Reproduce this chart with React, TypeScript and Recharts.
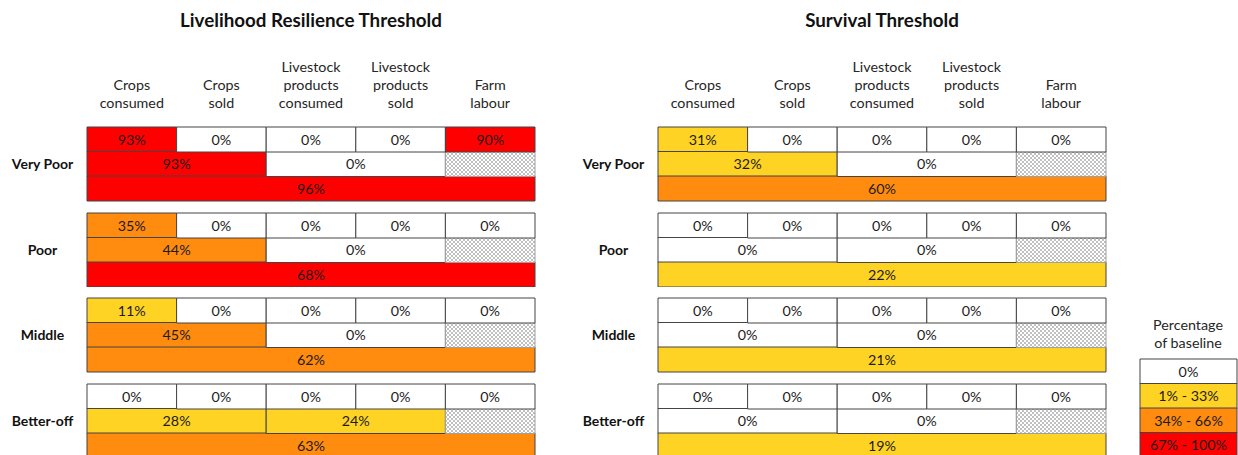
import React from "react";
import { BarChart, Bar, XAxis, YAxis, Cell, LabelList } from "recharts";

// ---------- data ----------
const groups = ["Very Poor", "Poor", "Middle", "Better-off"];
const incomeSources = [
  ["Crops", "consumed"],
  ["Crops", "sold"],
  ["Livestock", "products", "consumed"],
  ["Livestock", "products", "sold"],
  ["Farm", "labour"],
];
// structural spans (in source-column units)
const sourceSpans = [1, 1, 1, 1, 1];
const sourceGroupSpans = [2, 2, 1]; // crops, livestock products, farm labour (no data -> hatched)
const totalSpan = 5;

const resilienceBySource = [
  [93, 0, 0, 0, 90],
  [35, 0, 0, 0, 0],
  [11, 0, 0, 0, 0],
  [0, 0, 0, 0, 0],
];
const resilienceBySourceGroup = [
  [93, 0],
  [44, 0],
  [45, 0],
  [28, 24],
];
const resilienceTotal = [96, 68, 62, 63];

const survivalBySource = [
  [31, 0, 0, 0, 0],
  [0, 0, 0, 0, 0],
  [0, 0, 0, 0, 0],
  [0, 0, 0, 0, 0],
];
const survivalBySourceGroup = [
  [32, 0],
  [0, 0],
  [0, 0],
  [0, 0],
];
const survivalTotal = [60, 22, 21, 19];

const legendBands = ["0%", "1% - 33%", "34% - 66%", "67% - 100%"];
const bandLower = [0, 1, 34, 67];

// ---------- styles ----------
const palette = ["#FFFFFF", "#FFD323", "#FF8B0F", "#FF0000"];
const FONT = "Lato, 'Open Sans', sans-serif";
const ROW_H = 24.5;
const HEADER_H = 88;
const AXIS_W = 87;
const PLOT_W = 448;
const GROUP_STEP = 85.6;
const TABLE_TOP = 127;

function colorFor(v: number | null | undefined) {
  if (v === null || v === undefined) return "#FFFFFF";
  let idx = 0;
  bandLower.forEach((b, i) => {
    if (v >= b) idx = i;
  });
  return palette[idx];
}

type Row = Record<string, any>;

function buildRows(g: number, bySource: number[][], byGroup: number[][], total: number[]): Row[] {
  const items: Row = { row: "items" };
  sourceSpans.forEach((s, k) => {
    items[`s${k}`] = s;
    items[`v${k}`] = bySource[g][k];
  });
  const cats: Row = { row: "cats" };
  sourceGroupSpans.forEach((s, k) => {
    cats[`s${k}`] = s;
    const v = byGroup[g][k];
    cats[`v${k}`] = v === undefined ? null : v;
    cats[`h${k}`] = v === undefined;
  });
  const tot: Row = { row: "total", s0: totalSpan, v0: total[g] };
  return [items, cats, tot];
}

function makeCellLabel(suffix: string) {
  return (props: any) => {
    const vb = props.viewBox || props;
    const x = vb.x ?? props.x;
    const y = vb.y ?? props.y;
    const w = vb.width ?? props.width;
    const h = vb.height ?? props.height;
    const value = props.value;
    if (value === null || value === undefined || !w) return null;
    return (
      <text
        x={x + w / 2}
        y={y + h / 2 + 5}
        textAnchor="middle"
        fontFamily={FONT}
        fontSize={14.3}
        fill="#1c1c1c"
      >
        {`${value}${suffix}`}
      </text>
    );
  };
}
const PercentLabel = makeCellLabel("%");
const PlainLabel = makeCellLabel("");

function HeaderTick(props: any) {
  const { x, y, payload } = props;
  const idx = Math.floor(payload.value);
  const lines = incomeSources[idx] || [];
  const n = lines.length;
  return (
    <g>
      {lines.map((l, i) => (
        <text
          key={i}
          x={x}
          y={y - 19.5 - (n - 1 - i) * 18}
          textAnchor="middle"
          fontFamily={FONT}
          fontSize={14.3}
          fill="#262626"
        >
          {l}
        </text>
      ))}
    </g>
  );
}

function GroupChart({
  id,
  group,
  rows,
  withHeader,
}: {
  id: string;
  group: string;
  rows: Row[];
  withHeader: boolean;
}) {
  const height = ROW_H * 3 + 2 + (withHeader ? HEADER_H : 0);
  const hatchId = `hatch-${id}`;
  return (
    <BarChart
      layout="vertical"
      width={AXIS_W + PLOT_W + 2}
      height={height}
      data={rows}
      margin={{ top: 1, right: 2, bottom: 1, left: 0 }}
      barCategoryGap={0}
      barGap={0}
    >
      <defs>
        <pattern id={hatchId} width="4" height="4" patternUnits="userSpaceOnUse">
          <rect width="4" height="4" fill="#ffffff" />
          <path d="M0,0 L4,4 M4,0 L0,4" stroke="#b0b0b0" strokeWidth="0.8" />
        </pattern>
      </defs>
      <XAxis
        type="number"
        domain={[0, incomeSources.length]}
        orientation="top"
        hide={!withHeader}
        height={HEADER_H}
        ticks={incomeSources.map((_, i) => i + 0.5)}
        interval={0}
        tick={<HeaderTick />}
        tickLine={false}
        axisLine={false}
        tickSize={0}
        tickMargin={0}
      />
      <YAxis
        type="category"
        dataKey="row"
        width={AXIS_W}
        tickLine={false}
        axisLine={false}
        tickSize={0}
        tickMargin={0}
        tick={(p: any) =>
          p.payload && p.payload.value === "cats" ? (
            <text
              x={AXIS_W - 44.5}
              y={p.y + 5}
              textAnchor="middle"
              fontFamily={FONT}
              fontWeight="bold"
              fontSize={14}
              fill="#111"
            >
              {group}
            </text>
          ) : (
            <g />
          )
        }
      />
      {sourceSpans.map((_, k) => (
        <Bar key={k} dataKey={`s${k}`} stackId="row" isAnimationActive={false}>
          {rows.map((r, i) => {
            const hatched = r[`h${k}`];
            return (
              <Cell
                key={i}
                fill={hatched ? `url(#${hatchId})` : colorFor(r[`v${k}`])}
                stroke={hatched ? "#a0a0a0" : "#454545"}
                strokeWidth={1}
              />
            );
          })}
          <LabelList dataKey={`v${k}`} content={PercentLabel} />
        </Bar>
      ))}
    </BarChart>
  );
}

function Panel({
  id,
  left,
  bySource,
  byGroup,
  total,
}: {
  id: string;
  left: number;
  bySource: number[][];
  byGroup: number[][];
  total: number[];
}) {
  return (
    <>
      {groups.map((g, gi) => {
        const top = TABLE_TOP + gi * GROUP_STEP - 1 - (gi === 0 ? HEADER_H : 0);
        return (
          <div key={g} style={{ position: "absolute", left, top }}>
            <GroupChart
              id={`${id}-${gi}`}
              group={g}
              rows={buildRows(gi, bySource, byGroup, total)}
              withHeader={gi === 0}
            />
          </div>
        );
      })}
    </>
  );
}

function LegendChart() {
  const rows = legendBands.map((b, i) => ({ band: b, span: 1, lower: bandLower[i] }));
  return (
    <BarChart
      layout="vertical"
      width={99}
      height={ROW_H * 4 + 2}
      data={rows}
      margin={{ top: 1, right: 1, bottom: 1, left: 1 }}
      barCategoryGap={0}
    >
      <XAxis type="number" domain={[0, 1]} hide />
      <YAxis type="category" dataKey="band" hide />
      <Bar dataKey="span" isAnimationActive={false}>
        {rows.map((r, i) => (
          <Cell key={i} fill={colorFor(r.lower)} stroke="#454545" strokeWidth={1} />
        ))}
        <LabelList dataKey="band" content={PlainLabel} />
      </Bar>
    </BarChart>
  );
}

export default function App() {
  return (
    <div
      style={{
        position: "absolute",
        left: 0,
        top: 0,
        width: 1238,
        height: 455,
        overflow: "hidden",
        background: "#fff",
        fontFamily: FONT,
      }}
    >
      <svg
        width={1238}
        height={455}
        style={{ position: "absolute", left: 0, top: 0, pointerEvents: "none" }}
      >
        <text x={AXIS_W + PLOT_W / 2} y={27} textAnchor="middle" fontFamily={FONT} fontWeight="bold" fontSize={18.8} fill="#111">
          Livelihood Resilience Threshold
        </text>
        <text x={571 + AXIS_W + PLOT_W / 2} y={27} textAnchor="middle" fontFamily={FONT} fontWeight="bold" fontSize={18.8} fill="#111">
          Survival Threshold
        </text>
        <text x={1188} y={330} textAnchor="middle" fontFamily={FONT} fontSize={14.3} fill="#262626">
          Percentage
        </text>
        <text x={1188} y={348} textAnchor="middle" fontFamily={FONT} fontSize={14.3} fill="#262626">
          of baseline
        </text>
      </svg>
      <Panel id="res" left={0} bySource={resilienceBySource} byGroup={resilienceBySourceGroup} total={resilienceTotal} />
      <Panel id="surv" left={571} bySource={survivalBySource} byGroup={survivalBySourceGroup} total={survivalTotal} />
      <div style={{ position: "absolute", left: 1139, top: 358 }}>
        <LegendChart />
      </div>
    </div>
  );
}
